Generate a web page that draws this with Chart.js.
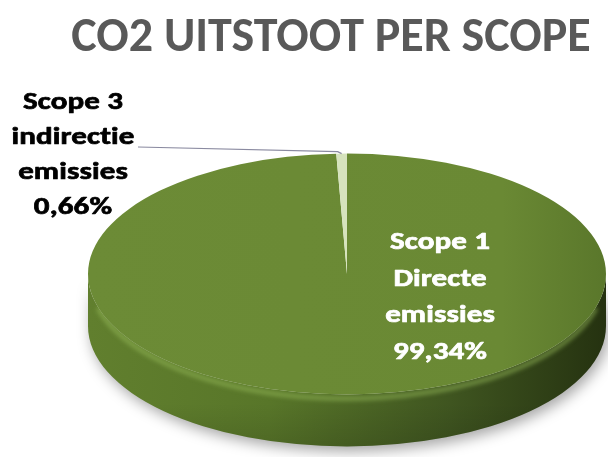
<!DOCTYPE html>
<html><head><meta charset="utf-8">
<script src="https://cdn.jsdelivr.net/npm/chart.js@4"></script>
<style>
html,body{margin:0;padding:0;background:#fff;}
#wrap{position:relative;width:608px;height:457px;overflow:hidden;}
#title{position:absolute;left:0;top:6px;width:662px;text-align:center;font:bold 48px Carlito, Lato, sans-serif;color:#595959;white-space:nowrap;line-height:58px;z-index:2;font-variant-ligatures:none;}
canvas{position:absolute;left:0;top:0;}
</style></head><body>
<div id="wrap"><div id="title">CO2 UITSTOOT PER SCOPE</div><canvas id="c" width="608" height="457"></canvas></div>
<script>
const categories = ['Scope 1 Directe emissies', 'Scope 3 indirectie emissies'];
const labelLines = [['Scope 1', 'Directe', 'emissies'], ['Scope 3', 'indirectie', 'emissies']];
const values = [99.34, 0.66];
const valueLabels = ['99,34%', '0,66%'];
const colors = ['#6b8a35', '#d6e3bd'];

const TILT = 0.465, DEPTH = 52;
const FONT = 'bold 25px Carlito, Lato, sans-serif';
const STRETCH = 1.24;

function sidePath(ctx, cx, cy, rx, ry, a0, a1) {
  ctx.beginPath();
  ctx.ellipse(cx, cy, rx, ry, 0, a0, a1);
  ctx.lineTo(cx + rx * Math.cos(a1), cy + ry * Math.sin(a1) + DEPTH);
  ctx.ellipse(cx, cy + DEPTH, rx, ry, 0, a1, a0, true);
  ctx.closePath();
}

function drawText(ctx, t, x, y) {
  ctx.save();
  ctx.translate(x, y);
  ctx.scale(STRETCH, 1);
  ctx.strokeText(t, 0, 0);
  ctx.fillText(t, 0, 0);
  ctx.restore();
}

const pie3d = {
  id: 'pie3d',
  beforeDatasetsDraw(chart) {
    const ctx = chart.ctx;
    const arcs = chart.getDatasetMeta(0).data;
    const cx = arcs[0].x, cy = arcs[0].y, rx = arcs[0].outerRadius, ry = rx * TILT;
    ctx.save();
    arcs.forEach((a) => {
      const a0 = Math.max(a.startAngle, 0), a1 = Math.min(a.endAngle, Math.PI);
      if (a1 <= a0) return;
      const g = ctx.createLinearGradient(cx - rx, 0, cx + rx, 0);
      g.addColorStop(0, '#617f2e');
      g.addColorStop(0.35, '#587629');
      g.addColorStop(0.7, '#3f5520');
      g.addColorStop(1, '#253210');
      ctx.save();
      ctx.shadowColor = 'rgba(0,0,0,0.35)';
      ctx.shadowBlur = 14; ctx.shadowOffsetY = 5; ctx.shadowOffsetX = 3;
      sidePath(ctx, cx, cy, rx, ry, a0, a1);
      ctx.fillStyle = g;
      ctx.fill();
      ctx.restore();
      const v = ctx.createLinearGradient(0, cy, 0, cy + ry + DEPTH);
      v.addColorStop(0, 'rgba(0,0,0,0)');
      v.addColorStop(0.75, 'rgba(0,0,0,0)');
      v.addColorStop(1, 'rgba(0,0,0,0.12)');
      sidePath(ctx, cx, cy, rx, ry, a0, a1);
      ctx.fillStyle = v;
      ctx.fill();
    });
    ctx.save();
    ctx.beginPath();
    ctx.ellipse(cx, cy + 4, rx - 2, ry, 0, 0.08 * Math.PI, 0.92 * Math.PI);
    ctx.strokeStyle = 'rgba(150,185,90,0.55)';
    ctx.lineWidth = 5;
    ctx.filter = 'blur(2px)';
    ctx.stroke();
    ctx.restore();
    arcs.forEach((a, i) => {
      ctx.beginPath();
      ctx.moveTo(cx, cy);
      ctx.ellipse(cx, cy, rx, ry, 0, a.startAngle, a.endAngle);
      ctx.closePath();
      if (i === 0) {
        const g = ctx.createLinearGradient(cx - rx, 0, cx + rx, 0);
        g.addColorStop(0, '#6c8b36');
        g.addColorStop(0.8, '#6a8934');
        g.addColorStop(1, '#5a772b');
        ctx.fillStyle = g;
      } else {
        ctx.fillStyle = a.options.backgroundColor;
      }
      ctx.fill();
    });
    ctx.restore();
    return false;
  },
  afterDraw(chart) {
    const ctx = chart.ctx;
    const arcs = chart.getDatasetMeta(0).data;
    const cx = arcs[0].x, cy = arcs[0].y, rx = arcs[0].outerRadius, ry = rx * TILT;
    ctx.save();
    ctx.font = FONT;
    ctx.textAlign = 'center';
    ctx.textBaseline = 'middle';
    ctx.lineWidth = 0.7;
    ctx.lineJoin = 'round';
    if ('letterSpacing' in ctx) ctx.letterSpacing = '0.1px';
    const l1 = labelLines[0].concat([valueLabels[0]]);
    ctx.fillStyle = '#ffffff';
    ctx.strokeStyle = '#ffffff';
    l1.forEach((t, k) => drawText(ctx, t, cx + 93, cy - 31 + k * 36.5));
    const l3 = labelLines[1].concat([valueLabels[1]]);
    ctx.fillStyle = '#000000';
    ctx.strokeStyle = '#000000';
    l3.forEach((t, k) => drawText(ctx, t, cx - 274, cy - 171 + k * 35));
    const a = arcs[1];
    const mid = (a.startAngle + a.endAngle) / 2;
    ctx.beginPath();
    ctx.moveTo(cx - 209, cy - 127);
    ctx.lineTo(cx + rx * Math.cos(mid) - 4, cy + ry * Math.sin(mid) - 2);
    ctx.lineTo(cx + rx * Math.cos(mid), cy + ry * Math.sin(mid));
    ctx.strokeStyle = '#8a8aa0';
    ctx.lineWidth = 1.2;
    ctx.stroke();
    ctx.restore();
  }
};

new Chart(document.getElementById('c'), {
  type: 'pie',
  data: {
    labels: categories,
    datasets: [{
      data: values,
      backgroundColor: colors,
      borderWidth: 0,
      radius: 259,
      clip: false
    }]
  },
  options: {
    responsive: false,
    animation: false,
    layout: { padding: { left: 86, top: 91, right: 0, bottom: 0 } },
    plugins: { legend: { display: false }, tooltip: { enabled: false } }
  },
  plugins: [pie3d]
});
</script>
</body></html>
